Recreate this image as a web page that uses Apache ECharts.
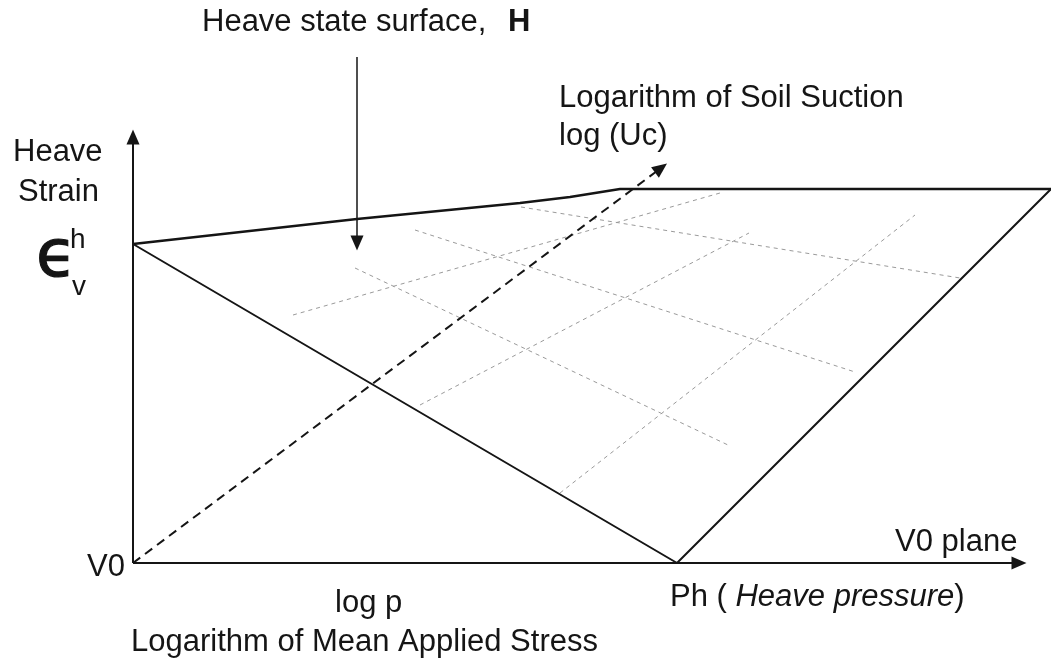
<!DOCTYPE html>
<html>
<head>
<meta charset="utf-8">
<title>Heave state surface</title>
<script src="https://cdn.jsdelivr.net/npm/echarts@6/dist/echarts.min.js"></script>
<style>
html, body { margin: 0; padding: 0; background: #fff; }
#chart { width: 1051px; height: 663px; }
</style>
</head>
<body>
<div id="chart"></div>
<script>
// diagram units measured from V0: x = log p, y = heave strain
var xMax = 918;
var yMax = 563;

// outline of the heave state surface H
var topEdge = [[0, 319], [224, 344], [387, 360], [437, 366], [487, 374], [918, 374]];
var frontEdge = [[0, 319], [544, 0], [918, 374]];

// axes and pointer, drawn as arrows (end = centre of arrow head)
var strainAxis = [[0, 0], [0, 426]];
var stressAxis = [[0, 0], [886, 0]];
var suctionAxis = [[0, 0], [528, 395]];
var surfacePointer = [[224, 506], [224, 320]];

// faint grid drawn on the surface
var fallingLines = [
  [[388, 356], [827, 285]],
  [[282, 333], [722, 191]],
  [[222, 295], [595, 118]]
];
var risingLines = [
  [[160, 248], [587, 370]],
  [[287, 158], [616, 330]],
  [[427, 70], [782, 348]]
];

var FONT = "'Liberation Sans', Arial, sans-serif";
var INK = '#151515';

var chart = echarts.init(document.getElementById('chart'));

var series = [];
fallingLines.concat(risingLines).forEach(function (seg) {
  series.push({
    type: 'line',
    data: seg,
    symbol: 'none',
    silent: true,
    lineStyle: { color: '#9a9a9a', width: 1, type: [4, 4] }
  });
});

series.push({
  type: 'line',
  data: topEdge,
  symbol: 'none',
  silent: true,
  lineStyle: { color: INK, width: 2.5 }
});

function arrow(seg, style) {
  return [
    { coord: seg[0], lineStyle: style },
    { coord: seg[1] }
  ];
}

series.push({
  type: 'line',
  data: frontEdge,
  symbol: 'none',
  silent: true,
  lineStyle: { color: INK, width: 2 },
  markLine: {
    silent: true,
    animation: false,
    symbol: ['none', 'triangle'],
    symbolSize: [13, 15],
    label: { show: false },
    data: [
      arrow(strainAxis, { color: INK, width: 2, type: 'solid' }),
      arrow(stressAxis, { color: INK, width: 2, type: 'solid' }),
      arrow(suctionAxis, { color: INK, width: 2, type: [9, 6] }),
      arrow(surfacePointer, { color: INK, width: 1.5, type: 'solid' })
    ]
  }
});

function txt(x, y, text, extra) {
  var style = {
    x: x, y: y, text: text,
    font: '31px ' + FONT,
    fill: INK,
    verticalAlign: 'middle'
  };
  for (var k in extra) style[k] = extra[k];
  return { type: 'text', silent: true, style: style };
}

chart.setOption({
  animation: false,
  backgroundColor: '#fff',
  grid: { left: 133, right: 0, top: 0, bottom: 100 },
  xAxis: { type: 'value', min: 0, max: xMax, show: false },
  yAxis: { type: 'value', min: 0, max: yMax, show: false },
  series: series,
  graphic: [
    txt(202, 22, 'Heave state surface,'),
    txt(508, 22, 'H', { font: 'bold 31px ' + FONT }),
    txt(559, 98, 'Logarithm of Soil Suction'),
    txt(559, 136, 'log (Uc)'),
    txt(13, 152, 'Heave'),
    txt(18, 192, 'Strain'),
    txt(36, 259, '\u03f5', { font: '66px DejaVu Sans', stroke: INK, lineWidth: 1.2 }),
    txt(70, 240, 'h', { font: '28px ' + FONT }),
    txt(72, 287, 'v', { font: '28px ' + FONT }),
    txt(87, 567, 'V0'),
    txt(895, 542, 'V0 plane'),
    txt(335, 603, 'log p'),
    txt(131, 642, 'Logarithm of Mean Applied Stress'),
    {
      type: 'text',
      silent: true,
      style: {
        x: 670, y: 597,
        text: '{n|Ph ( }{i|Heave pressure}{n|)}',
        verticalAlign: 'middle',
        rich: {
          n: { font: '31px ' + FONT, fill: INK },
          i: { font: 'italic 31px ' + FONT, fill: INK }
        }
      }
    }
  ]
});
</script>
</body>
</html>
